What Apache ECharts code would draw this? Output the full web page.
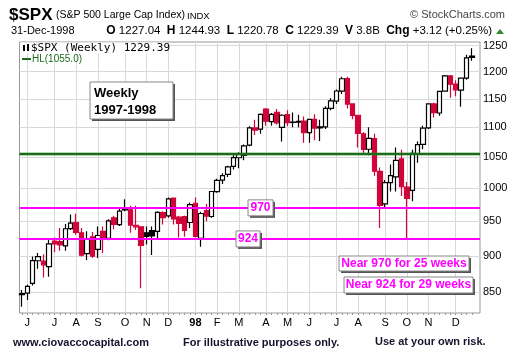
<!DOCTYPE html>
<html><head><meta charset="utf-8">
<script src="https://cdn.jsdelivr.net/npm/echarts@6/dist/echarts.min.js"></script>
<style>html,body{margin:0;padding:0;background:#fff}#c{width:520px;height:363px}</style>
</head><body><div id="c"></div>
<script>
// Weekly $SPX candles, week index 0 = week of 26-May-1997 ... 83 = week of 28-Dec-1998
const opens = [847,849,862,893,892.5,885,921,920,914,939,948,933,903,927,909,935,925,955,945,970,967,944,941.6,933,936,935,963,958,985,956,957,948,977,925,966,957,
  995,1013,1022,1035,1049,1053,1070,1099,1097,1132,1110,1126,1100,1122,1109,1109,1111,1091,1114,1099,1101,1133,1146,1164,1187,1141,1121,1089,1063,1081,1027,976,1009,1018,1047,1002,997,1056,1071,1099,1141,1125,1164,1192,1177,1166,1188,1227.04];
const highs = [853,860,899,904,902,924,926,940,946,960,961,940,935,934,942,942,953,958,970,983,973,973,942,942,942,965,965,986,986,958,958,978,986,964,976,996,
  1015,1024,1036,1055,1058,1071,1102,1113,1124,1134,1125,1132,1123,1130,1126,1122,1119,1115,1123,1113,1137,1151,1167,1190.6,1190.6,1142,1122,1092,1100,1089,1033,1013,1038,1066,1062,1010,1062,1076,1103,1142,1143,1165,1194,1194,1184,1189,1232,1244.93];
const lows = [831,840,859,882,870,871,905,907,907,937,930,899,894,897,897,904,922,938,943,965,933,937,855.3,916,901,925,945,955,945,926,927,940,926,912.8,950,955,
  993,1007,1018,1030,1032,1045,1068,1087,1089,1103,1103,1105,1076,1102,1100,1100,1074,1074,1078,1077,1097,1130,1141,1159,1133,1114,1066,1055,1053,1020,940,969,995,995,988,923.3,980,1041,1063,1097,1117,1120,1163,1152,1155,1136,1185,1220.78];
const closes = [848.3,858.0,893.3,898.7,887.3,916.9,916.7,915.3,938.8,947.1,933.5,900.8,923.5,899.5,929.0,923.9,950.5,945.2,965.0,967.0,944.2,941.6,914.6,927.5,928.4,963.1,955.4,983.8,953.4,946.8,936.5,975.0,927.7,961.5,957.6,995.1,
  1012.5,1020.1,1034.2,1049.3,1055.7,1068.6,1099.2,1095.4,1122.7,1110.7,1122.7,1107.9,1121.0,1108.1,1108.7,1110.5,1090.8,1113.9,1098.8,1100.7,1133.2,1146.4,1164.3,1186.8,1140.8,1120.7,1089.5,1062.8,1081.2,1027.1,973.9,1009.1,1020.1,1044.8,1002.6,984.4,1056.4,1070.7,1098.7,1141.0,1125.7,1163.6,1192.3,1176.7,1166.5,1188.0,1226.3,1229.39];
const monthTickWeeks = [1,6,10,14,19,23,27,32,36,40,45,49,53,58,62,67,71,75,80];
const monthTickLabels = ['J','J','A','S','O','N','D','98','F','M','A','M','J','J','A','S','O','N','D'];
const priceTicks = [850,900,950,1000,1050,1100,1150,1200,1250];
const supportLevels = [970, 924];
const hlLevel = 1055;

const RED = '#d0063a', BLK = '#000000';
const candles = closes.map((c, i) => {
  const o = opens[i];
  const col = (i === 0 || c >= closes[i - 1]) ? BLK : RED;
  const fill = c > o ? '#ffffff' : col;
  return {
    value: [i, o, c, lows[i], highs[i]],
    itemStyle: { color: fill, color0: fill, borderColor: col, borderColor0: col, borderColorDoji: col, borderWidth: 1.2 }
  };
});
const weekIdx = closes.map((c, i) => i);

const chart = echarts.init(document.getElementById('c'), null, { renderer: 'canvas' });
const FONT = '"Liberation Sans", Arial, sans-serif';
chart.setOption({
  animation: false,
  backgroundColor: '#fff',
  grid: { left: 19.5, top: 42, right: 40, bottom: 50, show: true, borderColor: '#999', borderWidth: 1, backgroundColor: 'transparent' },
  xAxis: [{
    type: 'value', min: -0.44, max: 84.48,
    axisLine: { show: false },
    axisTick: { show: false, customValues: monthTickWeeks },
    axisLabel: {
      customValues: monthTickWeeks, margin: 4, fontSize: 11, fontFamily: FONT, color: '#000',
      formatter: v => { const k = monthTickWeeks.indexOf(Math.round(v)); const t = monthTickLabels[k]; return t === '98' ? '{b|98}' : t; },
      rich: { b: { fontWeight: 'bold', fontSize: 11, fontFamily: FONT, color: '#000' } }
    },
    splitLine: { show: true, lineStyle: { color: '#d9d9d9', width: 1 } }
  }, {
    type: 'value', min: -0.44, max: 84.48, position: 'bottom',
    axisLine: { show: false },
    axisTick: { show: true, customValues: weekIdx, length: 2, lineStyle: { color: '#999' } },
    axisLabel: { show: false },
    splitLine: { show: false }
  }],
  yAxis: {
    type: 'log', logBase: 10, min: 823, max: 1257, position: 'right',
    axisLine: { show: false },
    axisTick: { show: false, customValues: priceTicks },
    axisLabel: { customValues: priceTicks, margin: 3, fontSize: 11, fontFamily: FONT, color: '#000', formatter: v => String(Math.round(v)) },
    splitLine: { show: true, lineStyle: { color: '#d9d9d9', width: 1 } }
  },
  series: [{
    type: 'candlestick',
    dimensions: ['week', 'open', 'close', 'lowest', 'highest'],
    encode: { x: 'week', y: ['open', 'close', 'lowest', 'highest'] },
    barWidth: 5,
    data: candles,
    markLine: {
      silent: true, symbol: 'none', animation: false, label: { show: false },
      data: [
        { yAxis: hlLevel, lineStyle: { color: 'rgba(40,140,40,0.35)', width: 4, type: 'solid' } },
        { yAxis: hlLevel, lineStyle: { color: '#1d6b1d', width: 2, type: 'solid' } },
        { yAxis: supportLevels[0], lineStyle: { color: '#ff00ff', width: 2, type: 'solid' } },
        { yAxis: supportLevels[1], lineStyle: { color: '#ff00ff', width: 2, type: 'solid' } }
      ]
    }
  }]
});

const y970 = chart.convertToPixel({ yAxisIndex: 0 }, supportLevels[0]);
const y924 = chart.convertToPixel({ yAxisIndex: 0 }, supportLevels[1]);

function box(x, y, w, h) {
  return [
    { type: 'rect', z: 50, shape: { x: x + 2, y: y + 2, width: w, height: h }, style: { fill: '#555' } },
    { type: 'rect', z: 51, shape: { x: x, y: y, width: w, height: h }, style: { fill: '#fff', stroke: '#888', lineWidth: 1 } }
  ];
}
function txt(text, x, y, font, fill, align, extra) {
  return Object.assign({ type: 'text', z: 60, style: Object.assign({ text: text, x: x, y: y, font: font, fill: fill, align: align || 'left', verticalAlign: 'middle' }, extra || {}) });
}
const MAG = '#ff00ff';
const g = [];
// header
g.push(txt('$SPX', 9, 15, 'bold 17px ' + FONT, '#000'));
g.push(txt('(S&P 500 Large Cap Index)', 56, 15, '10.5px ' + FONT, '#000'));
g.push(txt('INDX', 187, 16, '9.5px ' + FONT, '#000'));
g.push(txt('\u00A9 StockCharts.com', 505, 15, '11px ' + FONT, '#444', 'right'));
g.push(txt('31-Dec-1998', 11, 31, '11px ' + FONT, '#000'));
g.push({ type: 'text', z: 60, style: { text: '{b|O} 1227.04  {b|H} 1244.93  {b|L} 1220.78  {b|C} 1229.39  {b|V} 3.8B  {b|Chg} +3.12 (+0.25%)', x: 492, y: 31, align: 'right', verticalAlign: 'middle', font: '11.5px ' + FONT, fill: '#000', rich: { b: { fontWeight: 'bold', fontSize: 12, fontFamily: FONT, fill: '#000' } } } });
g.push({ type: 'polygon', z: 60, shape: { points: [[496, 34], [504, 34], [500, 29]] }, style: { fill: '#2e8b2e' } });
// in-plot legend
g.push({ type: 'rect', z: 40, shape: { x: 20, y: 42.5, width: 147, height: 11 }, style: { fill: '#fff' } });
g.push({ type: 'rect', z: 41, shape: { x: 23, y: 45, width: 2, height: 6 }, style: { fill: '#000' } });
g.push({ type: 'rect', z: 41, shape: { x: 27, y: 44, width: 2, height: 7 }, style: { fill: '#000' } });
g.push(txt('$SPX (Weekly) 1229.39', 31, 48.5, '11px "DejaVu Sans Mono", monospace', '#000'));
g.push({ type: 'line', z: 41, shape: { x1: 22, y1: 59, x2: 31, y2: 59 }, style: { stroke: '#1d6b1d', lineWidth: 2 } });
g.push(txt('HL(1055.0)', 32, 59, '10px ' + FONT, '#1d6b1d'));
// Weekly box
g.push(...box(90, 82, 83, 37));
g.push(txt('Weekly', 94, 93, 'bold 13px ' + FONT, '#000'));
g.push(txt('1997-1998', 94, 110, 'bold 13px ' + FONT, '#000'));
// level labels
g.push(...box(248, y970 - 8, 25, 16));
g.push(txt('970', 260.5, y970, 'bold 12px ' + FONT, MAG, 'center'));
g.push(...box(236, y924 - 8, 24, 16));
g.push(txt('924', 248, y924, 'bold 12px ' + FONT, MAG, 'center'));
g.push(...box(339, 256, 130, 15));
g.push(txt('Near 970 for 25 weeks', 404, 263.5, 'bold 12px ' + FONT, MAG, 'center'));
g.push(...box(344, 277, 129, 16));
g.push(txt('Near 924 for 29 weeks', 408.5, 285, 'bold 12px ' + FONT, MAG, 'center'));
// footer
g.push(txt('www.ciovaccocapital.com', 13, 343, 'bold 11px ' + FONT, '#14142e'));
g.push(txt('For illustrative purposes only.', 183, 343, 'bold 11px ' + FONT, '#14142e'));
g.push(txt('Use at your own risk.', 375, 342, 'bold 11px ' + FONT, '#14142e'));
chart.setOption({ graphic: g });
</script></body></html>
